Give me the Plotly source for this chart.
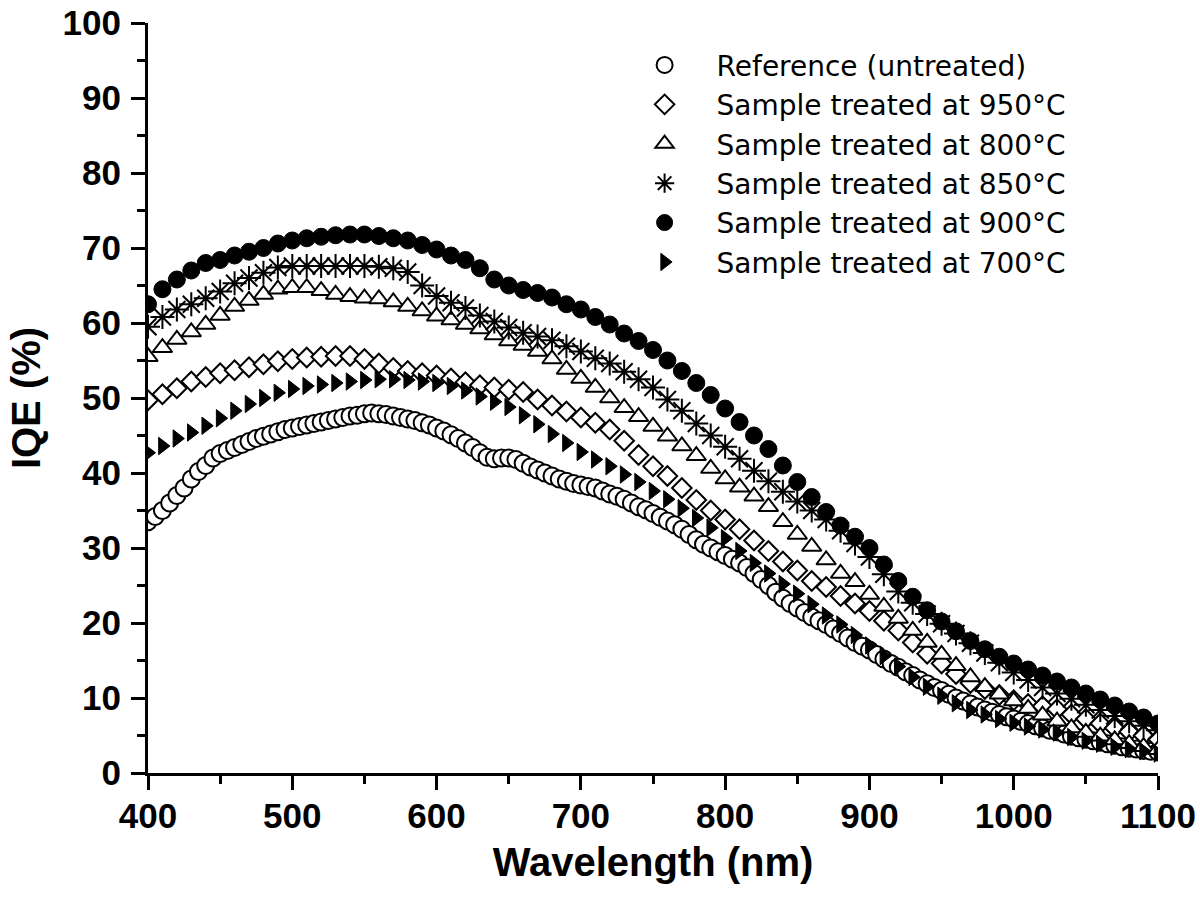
import plotly.graph_objects as go

# ---------------- data ----------------
wl_5nm = [400, 405, 410, 415, 420, 425, 430, 435, 440, 445, 450, 455, 460, 465, 470, 475, 480, 485, 490, 495,
          500, 505, 510, 515, 520, 525, 530, 535, 540, 545, 550, 555, 560, 565, 570, 575, 580, 585, 590, 595,
          600, 605, 610, 615, 620, 625, 630, 635, 640, 645, 650, 655, 660, 665, 670, 675, 680, 685, 690, 695,
          700, 705, 710, 715, 720, 725, 730, 735, 740, 745, 750, 755, 760, 765, 770, 775, 780, 785, 790, 795,
          800, 805, 810, 815, 820, 825, 830, 835, 840, 845, 850, 855, 860, 865, 870, 875, 880, 885, 890, 895,
          900, 905, 910, 915, 920, 925, 930, 935, 940, 945, 950, 955, 960, 965, 970, 975, 980, 985, 990, 995,
          1000, 1005, 1010, 1015, 1020, 1025, 1030, 1035, 1040, 1045, 1050, 1055, 1060, 1065, 1070, 1075,
          1080, 1085, 1090, 1095, 1100]

wl_10nm = [400, 410, 420, 430, 440, 450, 460, 470, 480, 490, 500, 510, 520, 530, 540, 550, 560, 570, 580, 590,
           600, 610, 620, 630, 640, 650, 660, 670, 680, 690, 700, 710, 720, 730, 740, 750, 760, 770, 780, 790,
           800, 810, 820, 830, 840, 850, 860, 870, 880, 890, 900, 910, 920, 930, 940, 950, 960, 970, 980, 990,
           1000, 1010, 1020, 1030, 1040, 1050, 1060, 1070, 1080, 1090, 1100]

iqe_reference = [33.5, 34.2, 35.0, 36.0, 37.0, 38.0, 39.2, 40.2, 41.0, 42.0, 42.6, 43.0, 43.4, 43.8, 44.2, 44.6,
                 44.9, 45.2, 45.5, 45.8, 46.0, 46.2, 46.4, 46.6, 46.8, 47.0, 47.2, 47.4, 47.6, 47.7, 47.9, 48.0,
                 47.9, 47.8, 47.6, 47.4, 47.2, 47.0, 46.7, 46.4, 46.0, 45.6, 45.1, 44.6, 44.0, 43.4, 42.7, 42.1,
                 41.9, 42.0, 42.0, 41.8, 41.3, 40.8, 40.4, 40.0, 39.6, 39.2, 38.9, 38.6, 38.4, 38.2, 38.0, 37.6,
                 37.2, 36.9, 36.5, 36.0, 35.5, 35.1, 34.6, 34.1, 33.6, 33.1, 32.5, 31.8, 31.1, 30.5, 30.0, 29.5,
                 29.0, 28.5, 28.0, 27.4, 26.6, 25.8, 25.0, 24.1, 23.3, 22.6, 22.0, 21.4, 20.8, 20.3, 19.8, 19.2,
                 18.6, 18.0, 17.4, 16.9, 16.4, 15.8, 15.2, 14.6, 14.1, 13.5, 13.0, 12.4, 11.9, 11.4, 11.0, 10.5,
                 10.0, 9.6, 9.2, 8.8, 8.4, 8.1, 7.8, 7.5, 7.2, 6.9, 6.6, 6.3, 6.0, 5.7, 5.5, 5.2, 4.9, 4.7, 4.5,
                 4.3, 4.1, 3.9, 3.7, 3.5, 3.3, 3.2, 3.0, 2.9, 2.8]

iqe_950 = [49.7, 50.5, 51.3, 52.2, 52.8, 53.3, 53.7, 54.1, 54.5, 54.9, 55.2, 55.4, 55.5, 55.6, 55.6, 55.2, 54.6,
           54.0, 53.6, 53.3, 53.0, 52.6, 52.1, 51.7, 51.4, 51.1, 50.8, 49.8, 49.0, 48.2, 47.4, 46.7, 45.8, 44.3,
           42.4, 40.9, 39.6, 38.0, 36.4, 35.0, 33.8, 32.5, 31.0, 29.6, 28.2, 27.0, 25.6, 24.8, 23.6, 22.6, 21.6,
           20.3, 19.0, 17.4, 15.9, 14.6, 13.2, 12.0, 11.2, 10.4, 9.7, 9.2, 8.9, 8.5, 7.8, 7.2, 6.6, 6.0, 5.5,
           5.0, 4.5]

iqe_800 = [55.5, 56.7, 57.8, 58.8, 59.8, 61.0, 62.2, 63.0, 63.8, 64.5, 64.7, 64.7, 64.3, 63.8, 63.5, 63.3, 63.2,
           62.8, 62.2, 61.6, 60.9, 60.4, 59.8, 59.2, 58.4, 57.6, 57.0, 56.2, 55.2, 53.8, 52.6, 51.4, 50.0, 48.7,
           47.5, 46.2, 44.9, 43.6, 42.3, 40.6, 39.2, 38.1, 36.9, 35.5, 33.5, 31.8, 30.2, 28.4, 26.6, 25.5, 23.8,
           22.2, 20.6, 19.0, 17.4, 15.8, 14.3, 12.8, 11.5, 10.5, 9.6, 8.6, 7.7, 6.9, 6.0, 5.4, 4.9, 4.4, 3.9,
           3.5, 3.1]

iqe_850 = [59.5, 60.8, 61.8, 62.5, 63.3, 64.2, 65.3, 66.0, 66.7, 67.4, 67.6, 67.6, 67.6, 67.6, 67.6, 67.6, 67.5,
           67.3, 66.8, 65.0, 63.6, 62.7, 62.0, 61.0, 60.2, 59.4, 58.7, 58.2, 57.7, 56.9, 56.2, 55.3, 54.6, 53.5,
           52.5, 51.4, 49.8, 48.3, 46.6, 45.0, 43.5, 41.9, 40.3, 38.9, 37.5, 36.2, 35.0, 33.8, 32.3, 30.6, 28.8,
           26.5, 24.2, 22.7, 21.2, 19.9, 18.6, 17.3, 16.0, 14.7, 13.4, 12.4, 11.4, 10.6, 9.9, 9.1, 8.4, 7.6, 6.9,
           6.3, 5.7]

iqe_900 = [62.5, 64.5, 65.8, 67.0, 68.0, 68.4, 69.0, 69.5, 70.0, 70.6, 71.0, 71.3, 71.5, 71.7, 71.8, 71.8, 71.6,
           71.3, 71.0, 70.4, 69.8, 69.0, 68.4, 67.3, 65.8, 65.0, 64.4, 64.0, 63.4, 62.5, 61.8, 60.8, 59.8, 58.6,
           57.6, 56.4, 55.0, 53.6, 52.0, 50.4, 48.6, 46.8, 45.0, 43.2, 41.0, 38.8, 36.8, 34.8, 33.0, 31.5, 30.0,
           27.8, 25.6, 23.5, 21.7, 20.2, 18.9, 17.6, 16.5, 15.5, 14.6, 13.8, 13.0, 12.2, 11.4, 10.6, 9.8, 9.0,
           8.2, 7.4, 6.6]

iqe_700 = [42.7, 43.6, 44.6, 45.4, 46.3, 47.3, 48.3, 49.2, 50.0, 50.7, 51.2, 51.6, 51.8, 52.0, 52.2, 52.4, 52.5,
           52.5, 52.4, 52.2, 52.0, 51.6, 51.0, 50.2, 49.5, 48.8, 47.7, 46.5, 45.2, 44.0, 42.8, 41.8, 40.9, 39.8,
           38.8, 37.6, 36.5, 35.3, 34.0, 32.7, 31.3, 29.6, 28.0, 26.6, 25.2, 23.9, 22.5, 21.0, 19.8, 18.4, 17.0,
           15.6, 14.2, 12.8, 11.5, 10.3, 9.3, 8.4, 7.8, 7.2, 6.7, 6.2, 5.8, 5.4, 4.8, 4.3, 3.9, 3.5, 3.2, 2.9,
           2.6]

series_names = ["Reference (untreated)", "Sample treated at 950°C", "Sample treated at 800°C",
                "Sample treated at 850°C", "Sample treated at 900°C", "Sample treated at 700°C"]

x_ticks = [400, 500, 600, 700, 800, 900, 1000, 1100]
y_ticks = [0, 10, 20, 30, 40, 50, 60, 70, 80, 90, 100]

# ---------------- figure ----------------
fig = go.Figure()

styles = [
    (wl_5nm, iqe_reference, dict(symbol="circle", size=17, color="white", line=dict(color="black", width=2))),
    (wl_10nm, iqe_950, dict(symbol="diamond", size=15, color="white", line=dict(color="black", width=2))),
    (wl_10nm, iqe_800, dict(symbol="triangle-up", size=17, color="white", line=dict(color="black", width=2))),
    (wl_10nm, iqe_850, dict(symbol="asterisk-open", size=20, color="black", line=dict(color="black", width=2))),
    (wl_10nm, iqe_900, dict(symbol="circle", size=17, color="black", line=dict(color="black", width=1))),
    (wl_10nm, iqe_700, dict(symbol="triangle-right", size=15, color="black", line=dict(color="black", width=1))),
]

for (xs, ys, mk), name in zip(styles, series_names):
    fig.add_trace(go.Scatter(x=xs, y=ys, mode="markers", name=name, marker=mk))

tick_font = dict(family="Liberation Sans, Arial, sans-serif", size=35, color="black", weight="bold")
title_font = dict(family="Liberation Sans, Arial, sans-serif", size=40, color="black", weight="bold")

fig.update_layout(
    width=1200, height=907,
    paper_bgcolor="white", plot_bgcolor="white",
    margin=dict(l=148, r=42, t=23, b=134, autoexpand=False),
    showlegend=True,
    legend=dict(
        x=0.46, y=0.977, xanchor="left", yanchor="top",
        font=dict(family="DejaVu Sans, sans-serif", size=28, color="black"),
        itemwidth=94, bgcolor="rgba(0,0,0,0)", borderwidth=0,
        tracegroupgap=0,
    ),
    xaxis=dict(
        range=[400, 1100], tickmode="array", tickvals=x_ticks,
        showline=True, linecolor="black", linewidth=3, mirror=False,
        ticks="outside", ticklen=14, tickwidth=3, tickcolor="black",
        minor=dict(ticks="outside", ticklen=8, tickwidth=3, tickcolor="black", dtick=50, tick0=400),
        showgrid=False, zeroline=False, tickfont=tick_font, ticklabelstandoff=-4,
        ticklabeloverflow="allow",
        title=dict(text="Wavelength (nm)", font=title_font, standoff=14),
        automargin=False,
    ),
    yaxis=dict(
        range=[0, 100], tickmode="array", tickvals=y_ticks,
        showline=True, linecolor="black", linewidth=3, mirror=False,
        ticks="outside", ticklen=14, tickwidth=3, tickcolor="black",
        minor=dict(ticks="outside", ticklen=8, tickwidth=3, tickcolor="black", dtick=5, tick0=0),
        showgrid=False, zeroline=False, tickfont=tick_font, ticklabelstandoff=3,
        ticklabeloverflow="allow",
        title=dict(text="IQE (%)", font=title_font, standoff=10),
        automargin=False,
    ),
)

# remove the browser's default body margin so the figure fills the window exactly
fig.write_html("out.html", config={"displayModeBar": False},
               post_script="document.body.style.margin='0';")
